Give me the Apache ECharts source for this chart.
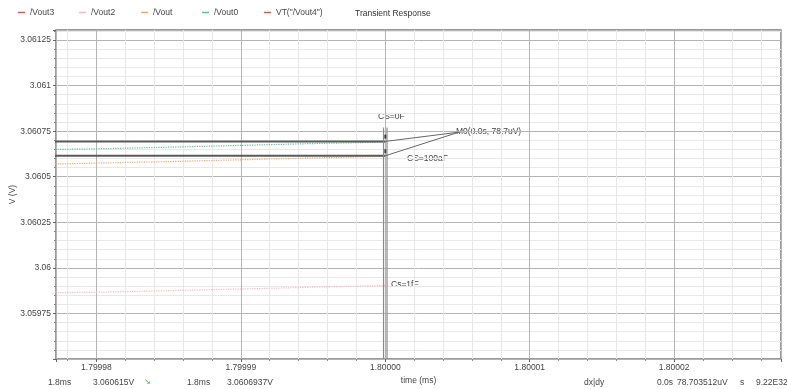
<!DOCTYPE html>
<html><head><meta charset="utf-8">
<script src="https://cdn.jsdelivr.net/npm/echarts@6/dist/echarts.min.js"></script>
<style>html,body{margin:0;padding:0;background:#fff}#c{width:787px;height:389px}</style>
</head><body><div id="c"></div>
<script>
// ---- data ----
const times = [1.79997, 1.799975, 1.79998, 1.799985, 1.79999, 1.799995, 1.8];
const vout0 = [3.060642, 3.060647, 3.060653, 3.060662, 3.060672, 3.060682, 3.060690]; // CS=0F
const vout  = [3.060562, 3.060566, 3.060575, 3.060583, 3.060593, 3.060603, 3.060612]; // CS=100aF
const vout2 = [3.059858, 3.059862, 3.059866, 3.059875, 3.059884, 3.059894, 3.059903]; // Cs=1fF
const markerLevels = [3.0606937, 3.060615];
const markerTime = 1.8;
const m0Point = [1.8000051, 3.0607445];
const legendNames = ['/Vout3', '/Vout2', '/Vout', '/Vout0', 'VT("/Vout4")'];
const xMin = 1.7999772, xMax = 1.8000274;
const yMin = 3.0595, yMax = 3.061305, yInterval = 0.00025;

const font = 'Liberation Sans, Arial, sans-serif';
const txt = '#444';
const pair = (xs, ys) => xs.map((x, i) => [x, ys[i]]);

const colors = {'/Vout3':'#e5544c','/Vout2':'#f2b8c0','/Vout':'#f0a868','/Vout0':'#5fbf8f','VT("/Vout4")':'#e5544c'};
const legendLefts = [18, 79, 141, 202, 264];

const chart = echarts.init(document.getElementById('c'), null, {renderer:'canvas'});
const dark = '#5a5a5a';
const series = [
  {name:'/Vout3', type:'line', data:[], color:colors['/Vout3']},
  {name:'/Vout2', type:'line', data:pair(times, vout2), color:colors['/Vout2'], showSymbol:false, lineStyle:{width:1.2,type:'dotted'}},
  {name:'/Vout', type:'line', data:pair(times, vout), color:colors['/Vout'], showSymbol:false, lineStyle:{width:1.2,type:'dotted'}},
  {name:'/Vout0', type:'line', data:pair(times, vout0), color:colors['/Vout0'], showSymbol:false, lineStyle:{width:1.2,type:'dotted'}},
  {name:'VT("/Vout4")', type:'line', data:[], color:colors['VT("/Vout4")']},
];
// horizontal marker lines
markerLevels.forEach(v => series.push({type:'line', data:[[xMin - 1e-6, v],[markerTime, v]], showSymbol:false, silent:true, lineStyle:{color:dark, width:2}, z:5}));
// vertical double marker line
[-1.2e-7, 1.2e-7].forEach(d => series.push({type:'line', data:[[markerTime + d, 3.06077],[markerTime + d, yMin]], showSymbol:false, silent:true, lineStyle:{color:'#8a8a8a', width:1.2}, z:5}));
// leader lines to M0
markerLevels.forEach(v => series.push({type:'line', data:[[markerTime, v], m0Point], showSymbol:false, silent:true, lineStyle:{color:'#666', width:1}, z:5}));
// small marker arrows
series.push({type:'scatter', data:[[markerTime, 3.06072],[markerTime, 3.06064]], symbol:'rect', symbolSize:[2,4], itemStyle:{color:'#222'}, silent:true, z:6});

const legends = legendNames.map((n, i) => ({
  data:[n], left:legendLefts[i], top:8, icon:'rect', itemWidth:7, itemHeight:1.5,
  textStyle:{fontFamily:font, fontSize:8.5, color:txt}, padding:0, itemGap:0
}));

const annot = (text, x, y, size) => ({type:'text', left:x, top:y, style:{text, fill:txt, font:(size || 8.5) + 'px ' + font}});

chart.setOption({
  animation:false,
  title:{text:'Transient Response', left:355, top:9, textStyle:{fontFamily:font, fontSize:8.5, fontWeight:'normal', color:'#333'}, padding:0},
  legend:legends,
  grid:{left:56, right:6, top:30, bottom:30, show:true, borderColor:'#7a7a7a', borderWidth:1.5, containLabel:false, outerBoundsMode:'none'},
  xAxis:{type:'value', min:xMin, max:xMax, splitNumber:5,
    name:'time (ms)', nameLocation:'middle', nameGap:17, nameMoveOverlap:false, nameTextStyle:{fontFamily:font, fontSize:8.5, color:txt},
    axisLine:{show:false}, axisTick:{show:true, length:3, lineStyle:{color:'#666'}},
    minorTick:{show:true, splitNumber:5, length:2, lineStyle:{color:'#888'}},
    axisLabel:{fontFamily:font, fontSize:8.5, color:txt, margin:4, showMinLabel:false, showMaxLabel:false, formatter:v=>v.toFixed(5)},
    splitLine:{show:true, lineStyle:{color:'#b4b4b4', width:1}},
    minorSplitLine:{show:true, lineStyle:{color:'#e8e8e8', width:1}}},
  yAxis:{type:'value', min:yMin, max:yMax, interval:yInterval,
    name:'V (V)', nameLocation:'middle', nameGap:39, nameMoveOverlap:false, nameTextStyle:{fontFamily:font, fontSize:8.5, color:txt},
    axisLine:{show:false}, axisTick:{show:true, length:3, lineStyle:{color:'#666'}},
    minorTick:{show:true, splitNumber:5, length:2, lineStyle:{color:'#888'}},
    axisLabel:{fontFamily:font, fontSize:8.5, color:txt, margin:5, showMinLabel:false, showMaxLabel:false, formatter:v=>String(parseFloat(v.toFixed(5)))},
    splitLine:{show:true, lineStyle:{color:'#b4b4b4', width:1}},
    minorSplitLine:{show:true, lineStyle:{color:'#e8e8e8', width:1}}},
  series,
  graphic:[
    annot('CS=0F', 378, 112),
    annot('M0(0.0s, 78.7uV)', 456, 127),
    annot('CS=100aF', 407, 154),
    annot('Cs=1fF', 391, 280),
    annot('1.8ms', 48, 378),
    annot('3.060615V', 93, 378),
    {type:'text', left:144, top:378, style:{text:'\u2198', fill:'#3cb043', font:'8px ' + font}},
    annot('1.8ms', 187, 378),
    annot('3.0606937V', 227, 378),
    annot('dx|dy', 584, 378),
    annot('0.0s', 657, 378),
    annot('78.703512uV', 677, 378),
    annot('s', 740, 378),
    annot('9.22E32', 756, 378)
  ]
});
</script></body></html>
